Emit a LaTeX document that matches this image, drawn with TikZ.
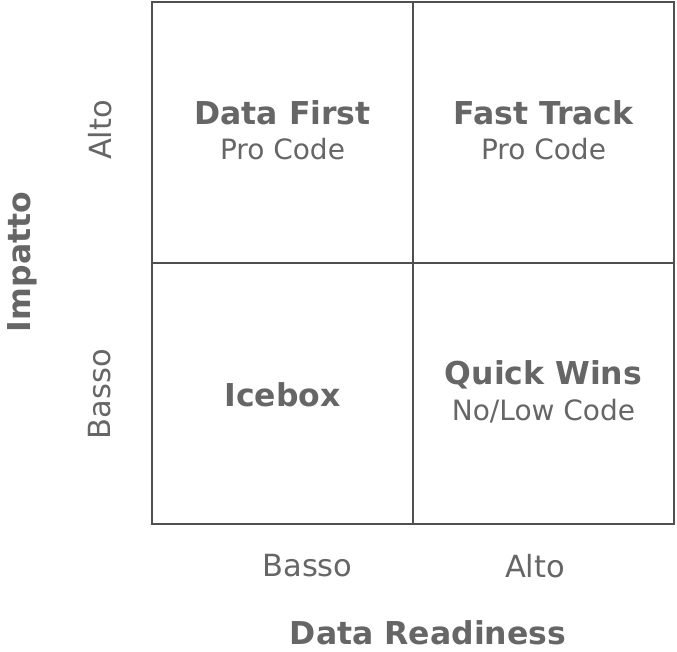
\documentclass[tikz,border=0pt]{standalone}
\usepackage{fontspec}
\setmainfont{DejaVu Sans}
\definecolor{txt}{HTML}{666666}
\definecolor{gridc}{HTML}{505050}
\tikzset{
  title/.style={text=txt, font=\fontsize{31.5}{36}\selectfont\bfseries, inner sep=0pt, anchor=center},
  sub/.style={text=txt, font=\fontsize{28}{32}\selectfont, inner sep=0pt, anchor=center},
  axlab/.style={text=txt, font=\fontsize{30.5}{34}\selectfont, inner sep=0pt, anchor=center},
  axtitle/.style={text=txt, font=\fontsize{31.5}{36}\selectfont\bfseries, inner sep=0pt, anchor=center},
  gridline/.style={draw=gridc, line width=2.4pt}
}
\begin{document}
\begin{tikzpicture}[x=1pt,y=-1pt]
\useasboundingbox (0,0) rectangle (677,651);
\fill[white] (0,0) rectangle (677,651);
% grid
\coordinate (tl) at (152,2);
\coordinate (br) at (674,524);
\coordinate (tm) at (413,2);
\coordinate (bm) at (413,524);
\coordinate (lm) at (152,263);
\coordinate (rm) at (674,263);
\draw[gridline] (tl) rectangle (br);
\draw[gridline] (tm) -- (bm);
\draw[gridline] (lm) -- (rm);
% cells
\node[title] (df) at (282.5,113) {Data First};
\node[sub] (dfs) at (282.5,149) {Pro Code};
\node[title] (ft) at (543.5,113) {Fast Track};
\node[sub] (fts) at (543.5,149) {Pro Code};
\node[title] (ib) at (282.5,395) {Icebox};
\node[title] (qw) at (543.5,375) {Quick Wins};
\node[sub] (qws) at (543.5,411) {No/Low Code};
% y axis
\node[axlab, rotate=90] (ya) at (100,130) {Alto};
\node[axlab, rotate=90] (yb) at (100,394) {Basso};
\node[axtitle, rotate=90] (yt) at (22,262) {Impatto};
% x axis
\node[axlab] (xb) at (307.5,566) {Basso};
\node[axlab] (xa) at (535,566) {Alto};
\node[axtitle] (xt) at (428,633) {Data Readiness};
\end{tikzpicture}
\end{document}
